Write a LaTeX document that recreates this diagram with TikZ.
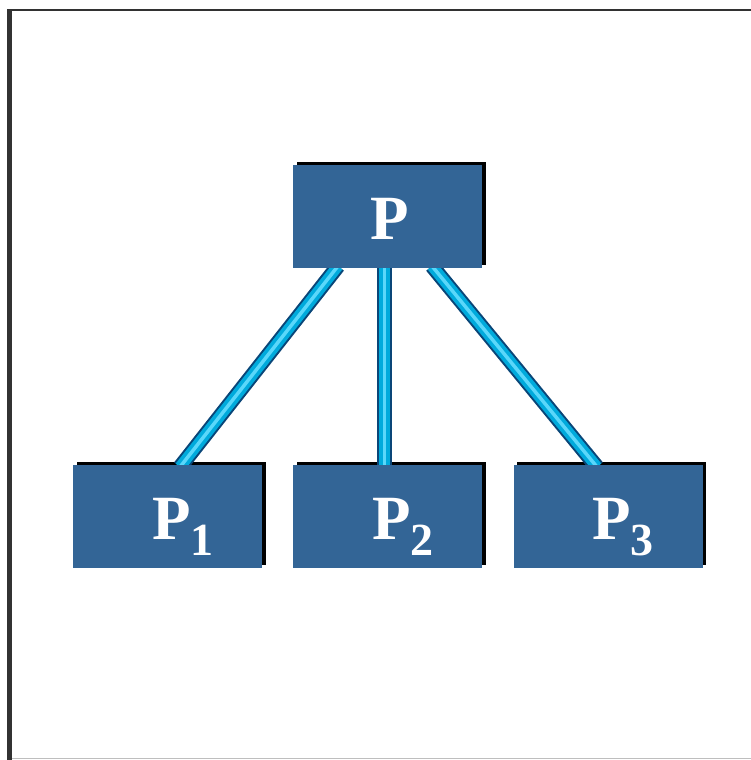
\documentclass[tikz,border=0pt]{standalone}
\usepackage{fontspec}
\newfontfamily\labelfont{Liberation Serif}[UprightFont={* Bold}]
\definecolor{boxblue}{RGB}{51,101,150}
\definecolor{linedark}{RGB}{10,70,120}
\definecolor{linecyan}{RGB}{0,170,220}
\definecolor{linelight}{RGB}{90,215,250}
\definecolor{framedark}{RGB}{50,50,50}
\definecolor{framegray}{RGB}{190,190,190}
\begin{document}
\begin{tikzpicture}[x=1pt,y=-1pt,
  pbox/.style={fill=boxblue, draw=none, minimum width=189pt, minimum height=103pt, inner sep=0pt, outer sep=0pt},
  shadowbox/.style={fill=black, minimum width=189pt, minimum height=103pt, inner sep=0pt},
  plabel/.style={text=white, font=\fontsize{63}{63}\labelfont\selectfont, inner sep=0pt},
  pipeouter/.style={draw=linedark, line width=15pt},
  pipemid/.style={draw=linecyan, line width=11pt},
  pipein/.style={draw=linelight, line width=3.5pt}]
\useasboundingbox (0,0) rectangle (751,760);
\fill[white] (0,0) rectangle (751,760);
% frame
\fill[framedark] (7,10) rectangle (12,760);
\fill[framedark] (7,9) rectangle (751,11.5);
\fill[framegray] (12,757.5) rectangle (751,759);
% anchor coordinates
\coordinate (cP) at (387.5,216.5);
\coordinate (c1) at (167.5,516.5);
\coordinate (c2) at (387.5,516.5);
\coordinate (c3) at (608,516.5);
% shadows
\node[shadowbox] at ([shift={(3.5,-3.5)}]cP) {};
\node[shadowbox] at ([shift={(3.5,-3.5)}]c1) {};
\node[shadowbox] at ([shift={(3.5,-3.5)}]c2) {};
\node[shadowbox] at ([shift={(3.5,-3.5)}]c3) {};
% connector end points
\coordinate (tL) at (338,266);
\coordinate (tM) at (384.5,266);
\coordinate (tR) at (432,266);
\coordinate (b1) at (180,467);
\coordinate (b2) at (384.5,467);
\coordinate (b3) at (597,467);
\foreach \a/\b in {tL/b1,tM/b2,tR/b3}{
  \draw[pipeouter] (\a) -- (\b);
  \draw[pipemid] (\a) -- (\b);
  \draw[pipein] (\a) -- (\b);
}
% boxes
\node[pbox] (P) at (cP) {};
\node[pbox] (P1) at (c1) {};
\node[pbox] (P2) at (c2) {};
\node[pbox] (P3) at (c3) {};
% labels
\node[plabel, anchor=base] at (390,239) {P};
\node[plabel, anchor=base west] at (152,539) {P\raisebox{-16pt}{\fontsize{46}{46}\selectfont 1}};
\node[plabel, anchor=base west] at (372,539) {P\raisebox{-16pt}{\fontsize{46}{46}\selectfont 2}};
\node[plabel, anchor=base west] at (592,539) {P\raisebox{-16pt}{\fontsize{46}{46}\selectfont 3}};
\end{tikzpicture}
\end{document}
